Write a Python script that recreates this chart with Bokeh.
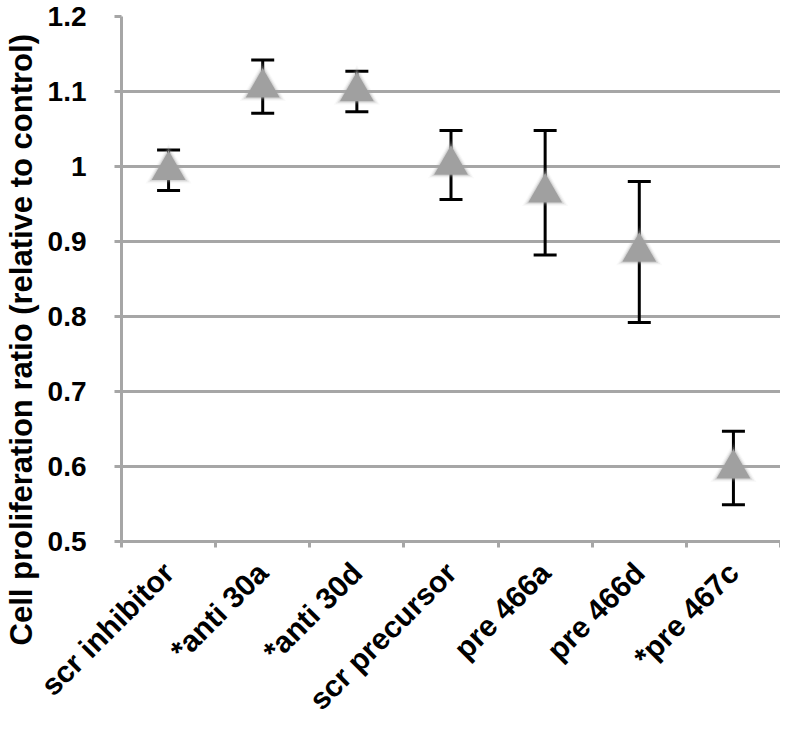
import math
from bokeh.plotting import figure
from bokeh.models import FixedTicker, Title, Range1d
from bokeh.embed import file_html
from bokeh.resources import INLINE

categories = ["scr inhibitor", "*anti 30a", "*anti 30d", "scr precursor",
              "pre 466a", "pre 466d", "*pre 467c"]
means = [0.995, 1.105, 1.100, 1.002, 0.965, 0.886, 0.597]
err_upper = [1.022, 1.142, 1.127, 1.048, 1.048, 0.980, 0.647]
err_lower = [0.968, 1.071, 1.073, 0.956, 0.882, 0.792, 0.549]
y_ticks = [0.5, 0.6, 0.7, 0.8, 0.9, 1.0, 1.1, 1.2]
y_tick_labels = ["0.5", "0.6", "0.7", "0.8", "0.9", "1", "1.1", "1.2"]
y_title = "Cell proliferation ratio (relative to control)"

xs = [i + 0.5 for i in range(len(categories))]
GRAY = "#A6A6A6"
FONT = "Liberation Sans"

p = figure(width=780, height=730, output_backend="svg", toolbar_location=None,
           x_range=Range1d(0, len(categories)), y_range=Range1d(y_ticks[0], y_ticks[-1]),
           min_border_left=120, min_border_right=0, min_border_top=16, min_border_bottom=185)
p.outline_line_color = None
p.background_fill_color = "white"

# y axis
ya = p.yaxis[0]
ya.ticker = FixedTicker(ticks=y_ticks, minor_ticks=[])
ya.major_label_overrides = {t: l for t, l in zip(y_ticks, y_tick_labels)}
ya.axis_line_color = GRAY
ya.axis_line_width = 3
ya.major_tick_line_color = GRAY
ya.major_tick_line_width = 3
ya.major_tick_out = 7
ya.major_tick_in = 0
ya.major_label_standoff = 28
ya.major_label_text_font = FONT
ya.major_label_text_font_style = "bold"
ya.major_label_text_font_size = "28px"
ya.major_label_text_color = "black"

# x axis
xa = p.xaxis[0]
xa.ticker = FixedTicker(ticks=xs, minor_ticks=list(range(len(categories) + 1)))
xa.major_label_overrides = {x: c for x, c in zip(xs, categories)}
xa.major_label_orientation = math.pi / 4
xa.axis_line_color = GRAY
xa.axis_line_width = 3
xa.major_tick_line_color = None
xa.minor_tick_line_color = GRAY
xa.minor_tick_line_width = 3
xa.minor_tick_out = 6
xa.minor_tick_in = 0
xa.major_label_standoff = 20
xa.major_label_text_font = FONT
xa.major_label_text_font_style = "bold"
xa.major_label_text_font_size = "30px"
xa.major_label_text_color = "black"

# grid
p.xgrid.grid_line_color = None
p.ygrid.ticker = FixedTicker(ticks=y_ticks)
p.ygrid.grid_line_color = GRAY
p.ygrid.grid_line_width = 3

# error bars
p.segment(x0=xs, y0=err_lower, x1=xs, y1=err_upper, line_color="black", line_width=3)
p.scatter(xs, err_upper, marker="dash", size=23, line_color="black", line_width=3)
p.scatter(xs, err_lower, marker="dash", size=23, line_color="black", line_width=3)

# blurred triangle markers
for sz, alpha, col in [(46, 0.07, "#B0B0B0"), (42, 0.14, "#A8A8A8"),
                       (38, 0.3, "#A4A4A4"), (34, 1.0, "#A0A0A0")]:
    p.scatter(xs, means, marker="triangle", size=sz, fill_color=col,
              fill_alpha=alpha, line_color=None)

# y title
p.add_layout(Title(text=y_title, align="left", vertical_align="top",
                   offset=-104, standoff=7,
                   text_font=FONT, text_font_style="bold", text_font_size="31px",
                   text_color="black"), "left")

open("out.html", "w").write(file_html(p, INLINE))
